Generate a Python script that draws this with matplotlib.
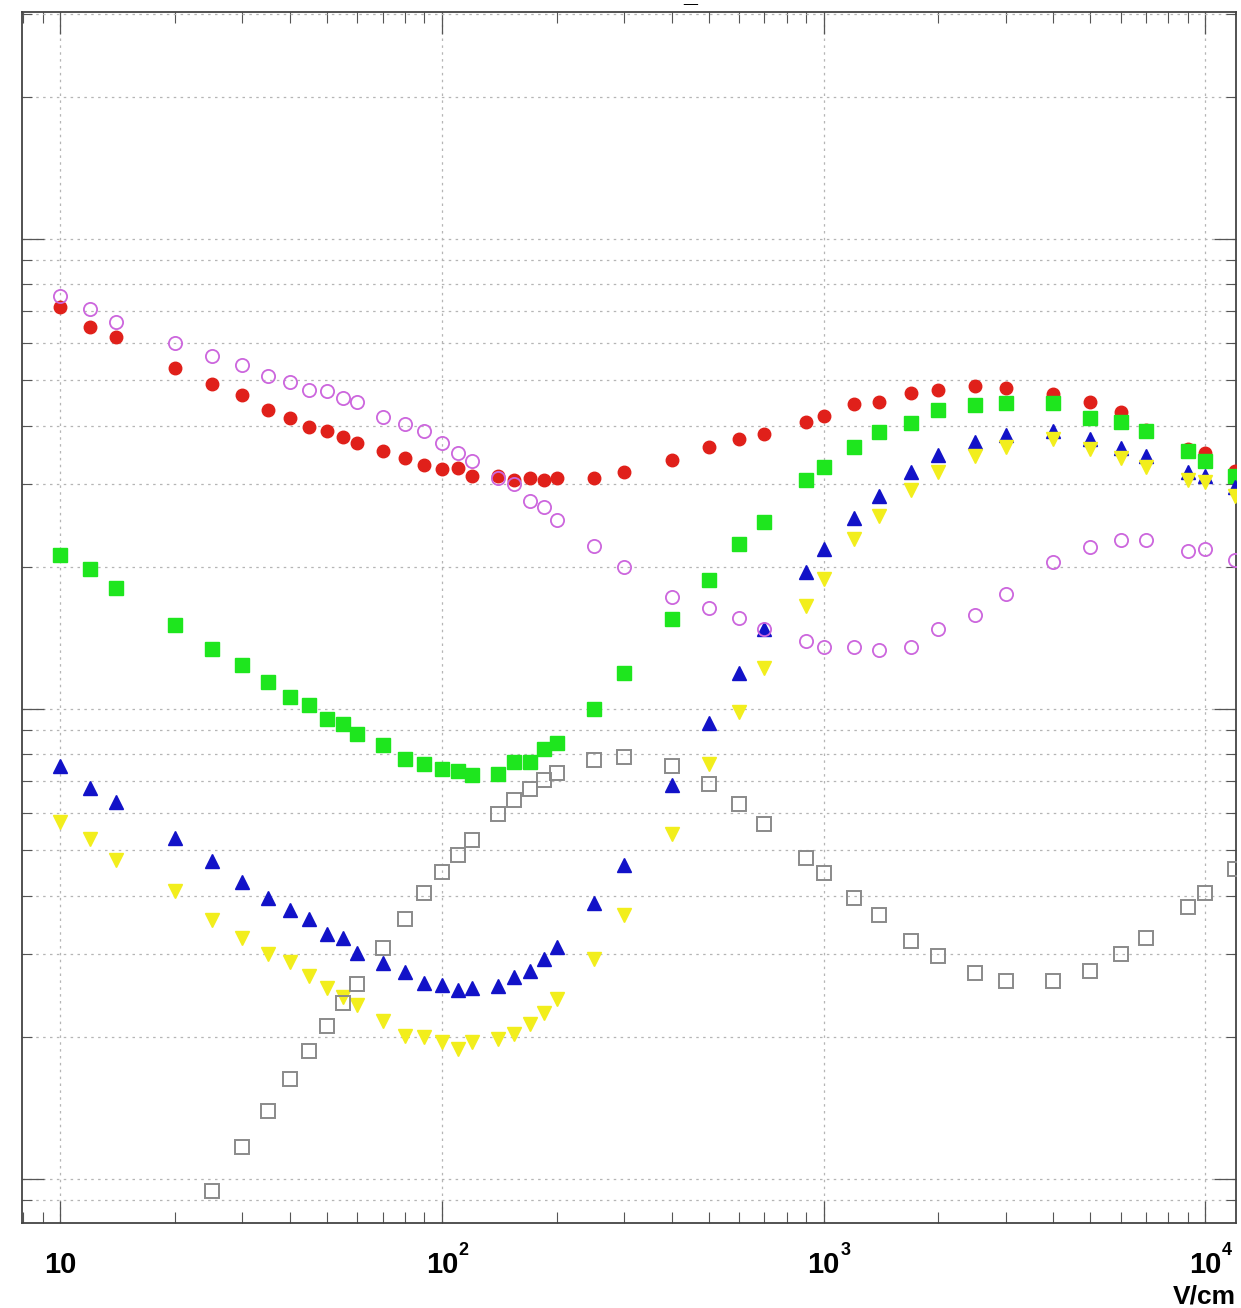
import matplotlib
matplotlib.use("Agg")
import matplotlib.pyplot as plt
from matplotlib.ticker import LogLocator, NullFormatter, FixedLocator
import matplotlib.transforms as mtransforms

plt.rcParams['font.family'] = ['Liberation Sans', 'DejaVu Sans']

# ---- data (V/cm) ----
x_field = [10, 12, 14, 20, 25, 30, 35, 40, 45, 50, 55, 60, 70, 80, 90, 100, 110, 120,
           140, 155, 170, 185, 200, 250, 300, 400, 500, 600, 700, 900, 1000, 1200,
           1400, 1700, 2000, 2500, 3000, 4000, 5000, 6000, 7000, 9000, 10000, 12000]

red_vals = [71.5, 65.0, 61.9, 53.0, 49.1, 46.5, 43.1, 41.5, 39.8, 38.9, 37.8, 36.8, 35.4,
            34.1, 33.0, 32.3, 32.5, 31.3, 31.3, 30.7, 30.9, 30.7, 31.0, 30.9, 31.9, 33.8,
            36.0, 37.5, 38.4, 40.8, 42.0, 44.5, 44.9, 46.9, 47.6, 48.6, 48.0, 46.6, 44.9,
            42.7, 39.2, 35.6, 35.0, 32.1]

green_vals = [21.2, 19.8, 18.1, 15.1, 13.4, 12.4, 11.4, 10.6, 10.2, 9.52, 9.26, 8.84, 8.36,
              7.80, 7.61, 7.44, 7.35, 7.23, 7.26, 7.69, 7.70, 8.22, 8.47, 10.0, 11.9, 15.5,
              18.8, 22.4, 25.0, 30.6, 32.7, 36.1, 38.7, 40.6, 43.1, 44.3, 44.6, 44.6, 41.6,
              40.8, 38.9, 35.4, 33.7, 31.3]

blue_vals = [7.54, 6.77, 6.34, 5.31, 4.73, 4.28, 3.96, 3.72, 3.56, 3.32, 3.245, 3.02, 2.87,
             2.75, 2.61, 2.58, 2.52, 2.545, 2.565, 2.68, 2.76, 2.93, 3.105, 3.86, 4.66, 6.88,
             9.31, 11.9, 14.8, 19.5, 21.9, 25.5, 28.4, 31.8, 34.7, 37.0, 38.3, 39.0, 37.5,
             35.9, 34.4, 31.8, 31.3, 29.6]

yellow_vals = [5.75, 5.28, 4.77, 4.09, 3.55, 3.25, 3.00, 2.885, 2.70, 2.545, 2.43, 2.34, 2.16,
               2.015, 2.005, 1.95, 1.89, 1.95, 1.98, 2.03, 2.13, 2.25, 2.415, 2.93, 3.64, 5.41,
               7.63, 9.82, 12.2, 16.5, 18.9, 22.9, 25.7, 29.2, 31.9, 34.4, 36.1, 37.5, 35.7,
               34.2, 32.7, 30.7, 30.3, 28.4]

pink_vals = [75.4, 70.9, 66.4, 59.9, 56.4, 53.9, 51.1, 49.6, 47.7, 47.4, 45.9, 44.9, 41.8,
             40.3, 38.9, 36.8, 35.0, 33.6, 31.0, 30.0, 27.6, 26.9, 25.2, 22.2, 20.0, 17.3,
             16.4, 15.6, 14.8, 13.95, 13.5, 13.5, 13.3, 13.55, 14.8, 15.85, 17.5, 20.5, 22.1,
             22.8, 22.8, 21.6, 21.9, 20.7]

gray_x = [25, 30, 35, 40, 45, 50, 55, 60, 70, 80, 90, 100, 110, 120, 140, 155, 170, 185,
          200, 250, 300, 400, 500, 600, 700, 900, 1000, 1200, 1400, 1700, 2000, 2500,
          3000, 4000, 5000, 6000, 7000, 9000, 10000, 12000]
gray_vals = [0.940, 1.17, 1.39, 1.63, 1.87, 2.11, 2.37, 2.60, 3.10, 3.57, 4.05, 4.49, 4.89,
             5.26, 5.97, 6.39, 6.75, 7.05, 7.28, 7.78, 7.88, 7.54, 6.92, 6.27, 5.68, 4.81,
             4.47, 3.95, 3.63, 3.21, 2.98, 2.74, 2.64, 2.64, 2.77, 3.00, 3.25, 3.79, 4.05, 4.56]

x_tick_values = [10, 100, 1000, 10000]
x_tick_bases = ['10', '10', '10', '10']
x_tick_exps = ['', '2', '3', '4']
x_unit = 'V/cm'

# ---- figure ----
W, H = 1241, 1308
fig = plt.figure(figsize=(W / 100, H / 100), dpi=100)
left_px, right_px, top_px, bot_px = 22.3, 1236, 12.3, 1222.7
ax = fig.add_axes([left_px / W, 1 - bot_px / H, (right_px - left_px) / W, (bot_px - top_px) / H])

ax.set_xscale('log')
ax.set_yscale('log')
ax.set_xlim(7.96, 12040)
ax.set_ylim(0.806, 303)

ms_common = dict(linestyle='none', clip_on=True)
ax.plot(x_field, red_vals, marker='o', ms=9, mfc='#e0201a', mec='#e0201a', zorder=3, **ms_common)
ax.plot(x_field, green_vals, marker='s', ms=9.5, mfc='#1ee61e', mec='#1ee61e', zorder=4, **ms_common)
ax.plot(x_field, blue_vals, marker='^', ms=9.5, mfc='#1212c8', mec='#1212c8', zorder=5, **ms_common)
ax.plot(x_field, yellow_vals, marker='v', ms=9.5, mfc='#f2ee1c', mec='#f2ee1c', zorder=6, **ms_common)
ax.plot(x_field, pink_vals, marker='o', ms=9.5, mfc='none', mec='#cc66dd', mew=1.3, zorder=7, **ms_common)
ax.plot(gray_x, gray_vals, marker='s', ms=10, mfc='none', mec='#8a8a8a', mew=1.4, zorder=7, **ms_common)

# ticks
ax.xaxis.set_major_locator(FixedLocator(x_tick_values))
ax.xaxis.set_minor_locator(LogLocator(base=10, subs=[2, 3, 4, 5, 6, 7, 8, 9], numticks=20))
ax.xaxis.set_major_formatter(NullFormatter())
ax.xaxis.set_minor_formatter(NullFormatter())
ax.yaxis.set_major_locator(LogLocator(base=10, numticks=10))
ax.yaxis.set_minor_locator(LogLocator(base=10, subs=[2, 3, 4, 5, 6, 7, 8, 9], numticks=20))
ax.yaxis.set_major_formatter(NullFormatter())
ax.yaxis.set_minor_formatter(NullFormatter())

ax.tick_params(axis='x', which='major', direction='in', length=16, width=0.9,
               color='#555555', top=True, bottom=True)
ax.tick_params(axis='x', which='minor', direction='in', length=8, width=0.8,
               color='#555555', top=True, bottom=True)
ax.tick_params(axis='y', which='major', direction='in', length=16, width=0.9,
               color='#555555', left=True, right=True)
ax.tick_params(axis='y', which='minor', direction='in', length=7, width=0.8,
               color='#555555', left=True, right=True)

for s in ax.spines.values():
    s.set_color('#444444')
    s.set_linewidth(1.3)

grid_kw = dict(color='#b5b5b5', linestyle=(0, (2, 3.5)), linewidth=0.9)
ax.grid(True, axis='x', which='major', **grid_kw)
ax.grid(True, axis='y', which='both', **grid_kw)
ax.set_axisbelow(True)

# tick labels (bold, ROOT-like)
trans = mtransforms.blended_transform_factory(ax.transData, fig.transFigure)
base_y = 1 - 1273 / H
for xv, b, e in zip(x_tick_values, x_tick_bases, x_tick_exps):
    ax.text(xv, base_y, b, transform=trans, ha='center', va='baseline',
            fontsize=21, fontweight='bold', clip_on=False)
    if e:
        off = mtransforms.ScaledTranslation(17 / 100, 18 / 100, fig.dpi_scale_trans)
        ax.text(xv, base_y, e, transform=trans + off, ha='left', va='baseline',
                fontsize=13, fontweight='bold', clip_on=False)

fig.text(right_px / W, 1 - 1303 / H, x_unit, ha='right', va='baseline',
         fontsize=19, fontweight='bold')
fig.text(690 / W, 1 - 1 / H, '_', ha='center', va='baseline', fontsize=18, fontweight='bold')

fig.savefig('out.png', dpi=100, facecolor='white')
